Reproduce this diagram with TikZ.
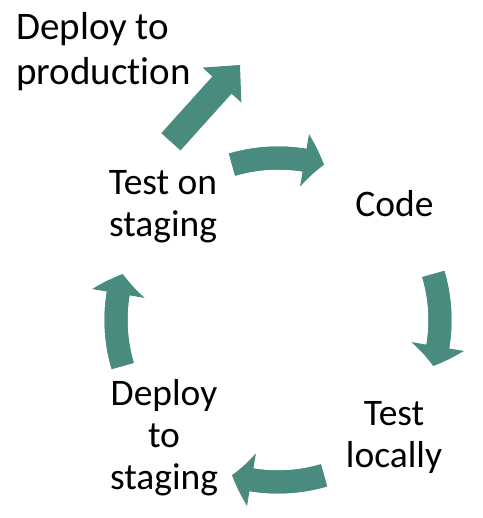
\documentclass[tikz,border=0pt]{standalone}
\usepackage{fontspec}
\setmainfont{Carlito}[Ligatures=NoCommon]
\usetikzlibrary{arrows.meta,bending,calc}
\definecolor{cyc}{RGB}{74,139,128}

\begin{document}
\begin{tikzpicture}[x=1pt,y=1pt,
  lbl/.style={inner sep=0pt,align=center,font=\fontsize{37.5}{42}\selectfont},
  shaft/.style={cyc,line width=23pt},
  cycarr/.style={shaft,-{Triangle[width=53pt,length=20pt,line width=1pt,bend]}},
  uparr/.style={cyc,line width=25.5pt,-{Triangle[width=52pt,length=27pt,line width=1pt]}}]
\useasboundingbox (0,0) rectangle (482,518);

\node[lbl] (ston) at (163,311) {Test on\\staging};
\node[lbl] (code) at (394.5,314) {Code};
\node[lbl] (tloc) at (394,81) {Test\\locally};
\node[lbl] (dstg) at (164,80.5) {Deploy\\to\\staging};
\node[lbl,align=left,anchor=west,font=\fontsize{39}{45}\selectfont] (dprod) at (16,466) {Deploy to\\production};

% cycle arrows round one centre
\coordinate (ctr) at (278,198);
\draw[shaft] ([shift={(106.5:162)}]ctr) arc[start angle=106.5,end angle=78,radius=162];
\draw[cycarr] ([shift={(106.5:162)}]ctr) arc[start angle=106.5,end angle=73.5,radius=162];
\draw[shaft] ([shift={(16.5:162)}]ctr) arc[start angle=16.5,end angle=-12,radius=162];
\draw[cycarr] ([shift={(16.5:162)}]ctr) arc[start angle=16.5,end angle=-16.5,radius=162];
\draw[shaft] ([shift={(-73.5:162)}]ctr) arc[start angle=-73.5,end angle=-102,radius=162];
\draw[cycarr] ([shift={(-73.5:162)}]ctr) arc[start angle=-73.5,end angle=-106.5,radius=162];
\draw[shaft] ([shift={(196.5:162)}]ctr) arc[start angle=196.5,end angle=168,radius=162];
\draw[cycarr] ([shift={(196.5:162)}]ctr) arc[start angle=196.5,end angle=163.5,radius=162];

\coordinate (upa) at (171,376.3);
\coordinate (upb) at (240,453);
\draw[cyc,line width=25.5pt] (upa) -- ($(upa)!0.8!(upb)$);
\draw[uparr] (upa) -- (upb);

\end{tikzpicture}
\end{document}
